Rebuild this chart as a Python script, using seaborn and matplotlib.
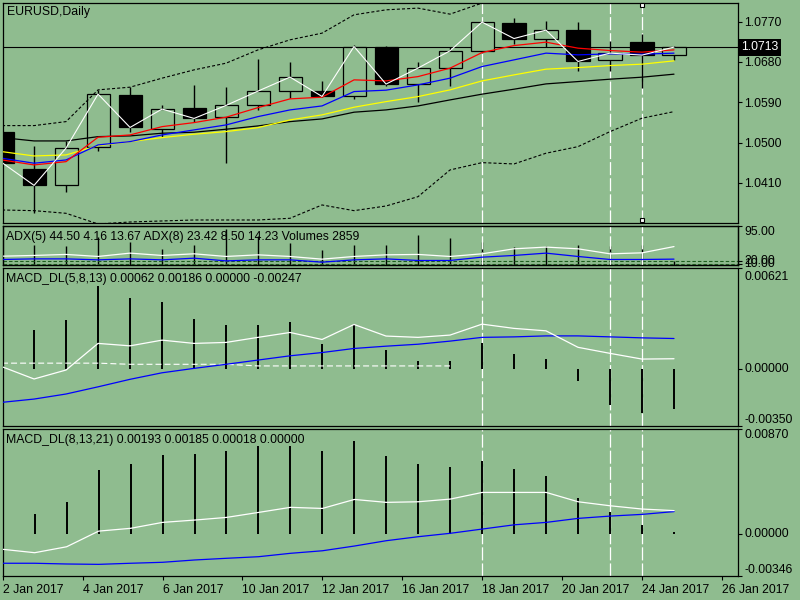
import numpy as np
import pandas as pd
import matplotlib
matplotlib.use("Agg")
import matplotlib.pyplot as plt
import matplotlib.transforms as mtransforms
import seaborn as sns

BG = "#8FBC8F"

# ---- price panel data (one value per daily bar) ----
bars = np.arange(22)
opens = [1.05243, 1.04418, 1.04046, 1.04893, 1.06051, 1.05303, 1.05770, 1.05570,
         1.05829, 1.06149, 1.06156, 1.06029, 1.07143, 1.06305, 1.06653, 1.07032,
         1.07664, 1.07321, 1.07515, 1.06840, 1.07241, 1.06951]
highs = [1.05350, 1.04915, 1.05026, 1.06178, 1.06238, 1.05838, 1.06290, 1.06238,
         1.06862, 1.06787, 1.06379, 1.07181, 1.07150, 1.06795, 1.07143, 1.07700,
         1.07789, 1.07716, 1.07687, 1.07270, 1.07426, 1.07150]
lows = [1.04450, 1.03431, 1.03890, 1.04804, 1.05243, 1.05116, 1.05466, 1.04545,
        1.05733, 1.05984, 1.06020, 1.05971, 1.06268, 1.05904, 1.06252, 1.07000,
        1.07210, 1.07121, 1.06586, 1.06586, 1.06216, 1.06847]
closes = [1.04552, 1.04046, 1.04879, 1.06082, 1.05338, 1.05748, 1.05539, 1.05829,
          1.06149, 1.06461, 1.06029, 1.07143, 1.06305, 1.06662, 1.07047, 1.07687,
          1.07321, 1.07508, 1.06809, 1.06996, 1.06951, 1.07130]
ma_red = [1.04613, 1.04502, 1.04575, 1.05120, 1.05171, 1.05356, 1.05446, 1.05566,
          1.05780, 1.05975, 1.06013, 1.06399, 1.06376, 1.06472, 1.06660, 1.07008,
          1.07164, 1.07240, 1.07106, 1.07053, 1.07017, 1.07068]
ma_blue = [1.04651, 1.04540, 1.04613, 1.04948, 1.05022, 1.05171, 1.05283, 1.05394,
           1.05580, 1.05729, 1.05818, 1.06138, 1.06169, 1.06287, 1.06437, 1.06696,
           1.06845, 1.06995, 1.06957, 1.06979, 1.06972, 1.06995]
ma_yellow = [1.04798, 1.04702, 1.04725, 1.04932, 1.05022, 1.05111, 1.05187, 1.05245,
             1.05334, 1.05506, 1.05618, 1.05789, 1.05914, 1.06026, 1.06176, 1.06376,
             1.06510, 1.06638, 1.06673, 1.06718, 1.06749, 1.06823]
ma_black = [1.05111, 1.05037, 1.05037, 1.05133, 1.05149, 1.05209, 1.05231, 1.05298,
            1.05372, 1.05468, 1.05528, 1.05678, 1.05729, 1.05818, 1.05952, 1.06080,
            1.06191, 1.06309, 1.06361, 1.06414, 1.06459, 1.06526]
band_up = [1.05379, 1.05379, 1.05468, 1.06176, 1.06236, 1.06437, 1.06622, 1.06771,
           1.07068, 1.07292, 1.07441, 1.07850, 1.07961, 1.07999, 1.07865, 1.08111,
           1.08250, 1.08350, 1.08400, 1.08380, 1.08350, 1.08320]
band_dn = [1.03497, 1.03482, 1.03423, 1.03185, 1.03229, 1.03252, 1.03274, 1.03274,
           1.03274, 1.03312, 1.03609, 1.03482, 1.03586, 1.03794, 1.04390, 1.04553,
           1.04524, 1.04763, 1.04910, 1.05245, 1.05544, 1.05691]
bid = 1.0713
price_ticks = [1.0410, 1.0500, 1.0590, 1.0680, 1.0770]

# ---- ADX / volume panel ----
adx_main = [20.9, 22.7, 25.2, 20.2, 28.4, 22.7, 26.7, 20.2, 24.2, 20.2, 13.6,
            20.2, 24.2, 25.2, 20.2, 26.7, 39.0, 43.2, 39.0, 26.7, 29.1, 44.5]
adx_minus = [12.8, 14.3, 14.3, 11.9, 14.3, 11.9, 16.0, 9.4, 11.9, 11.9, 6.2,
             11.9, 14.3, 10.4, 10.4, 18.5, 22.7, 28.4, 20.2, 12.8, 12.8, 13.67]
adx_levels = [8.4, 2.5]
adx_level_labels = ["20.00", "10.00"]
volumes = [np.nan, 16300, 15500, 23300, 19100, 13500, 16300, 30300, 23900, 18500,
           12100, 16300, 16800, 25300, 22700, 19100, 14900, 15700, 16800, 15700,
           16800, 2859]

# ---- MACD_DL(5,8,13) ----
m1_hist = [np.nan, 0.00237, 0.00299, 0.00508, 0.00435, 0.00411, 0.00305, 0.00268,
           0.00268, 0.00288, 0.00151, 0.00274, 0.00115, 0.00046, 0.00046, 0.00160,
           0.00091, 0.00058, -0.00077, -0.00222, -0.00272, -0.00247]
m1_white = [0.00013, -0.00062, -0.00007, 0.00156, 0.00141, 0.00176, 0.00156, 0.00162,
            0.00193, 0.00223, 0.00180, 0.00272, 0.00201, 0.00193, 0.00207, 0.00274,
            0.00248, 0.00233, 0.00132, 0.00095, 0.00060, 0.00062]
m1_blue = [-0.00205, -0.00185, -0.00154, -0.00110, -0.00064, -0.00024, 0.00003, 0.00028,
           0.00054, 0.00080, 0.00100, 0.00125, 0.00139, 0.00151, 0.00170, 0.00193,
           0.00196, 0.00202, 0.00202, 0.00196, 0.00190, 0.00186]
m1_dash = [0.00035, 0.00035, 0.00035, 0.00035, 0.00028, 0.00028, 0.00028, 0.00028,
           0.00018, 0.00018, 0.00018, 0.00018, 0.00018, 0.00018, 0.00018]
m1_range = (-0.00350, 0.00621)

# ---- MACD_DL(8,13,21) ----
m2_hist = [np.nan, 0.00164, 0.00266, 0.00527, 0.00576, 0.00650, 0.00658, 0.00683,
           0.00724, 0.00724, 0.00683, 0.00765, 0.00642, 0.00576, 0.00554, 0.00603,
           0.00535, 0.00477, 0.00299, 0.00183, 0.00076, 0.00018]
m2_white = [-0.00126, -0.00154, -0.00105, 0.00024, 0.00047, 0.00096, 0.00115, 0.00137,
            0.00178, 0.00220, 0.00211, 0.00285, 0.00261, 0.00266, 0.00288, 0.00343,
            0.00343, 0.00343, 0.00266, 0.00233, 0.00206, 0.00193]
m2_blue = [-0.00241, -0.00241, -0.00247, -0.00250, -0.00241, -0.00233, -0.00214, -0.00200,
           -0.00187, -0.00159, -0.00138, -0.00099, -0.00055, -0.00022, 0.00006, 0.00041,
           0.00076, 0.00096, 0.00129, 0.00148, 0.00162, 0.00185]
m2_range = (-0.00346, 0.00870)

date_labels = ["2 Jan 2017", "4 Jan 2017", "6 Jan 2017", "10 Jan 2017", "12 Jan 2017",
               "16 Jan 2017", "18 Jan 2017", "20 Jan 2017", "24 Jan 2017", "26 Jan 2017"]
marked_bars = [15, 19, 20]

sns.set_style("ticks")
plt.rcParams["font.family"] = ["Liberation Sans", "DejaVu Sans"]
plt.rcParams["font.size"] = 8.8
plt.rcParams["lines.scale_dashes"] = False
plt.rcParams["axes.facecolor"] = BG
plt.rcParams["axes.edgecolor"] = "black"
plt.rcParams["axes.linewidth"] = 0.9
plt.rcParams["xtick.color"] = "black"
plt.rcParams["ytick.color"] = "black"

fig = plt.figure(figsize=(8, 6), dpi=100, facecolor=BG)
L, R = 2.7, 738.0


def panel(top, bottom):
    return fig.add_axes([L / 800, 1 - bottom / 600, (R - L) / 800, (bottom - top) / 600])


def nudge(label, dy_px):
    # shift a tick label vertically by a few pixels
    label.set_transform(label.get_transform() +
                        mtransforms.ScaledTranslation(0, dy_px / 100, fig.dpi_scale_trans))


ax_p = panel(2.7, 223.3)
ax_a = panel(226.0, 264.7)
ax_m1 = panel(267.5, 426.0)
ax_m2 = panel(428.5, 576.0)
axes = [ax_p, ax_a, ax_m1, ax_m2]

# volume bars live on a hidden twin of the ADX panel
ax_v = ax_a.twinx()
ax_v.set_ylim(0, 32600)
ax_v.set_yticks([])
ax_v.vlines(bars, 0, volumes, color="black", lw=1.0, zorder=2)
ax_v.patch.set_facecolor(BG)
ax_a.set_zorder(ax_v.get_zorder() + 1)
ax_a.patch.set_visible(False)

for ax in axes + [ax_v]:
    ax.set_xlim(0.02, 23.0)
for ax in axes:
    ax.yaxis.tick_right()
    ax.tick_params(axis="y", direction="out", length=3, width=0.8, pad=1.5,
                   labelsize=8.8, left=False, labelleft=False, right=True,
                   labelright=True)
    ax.tick_params(axis="x", bottom=False, labelbottom=False)
    for s in ax.spines.values():
        s.set_visible(True)
        s.set_color("black")

# ---- price panel ----
df = pd.DataFrame({"bar": bars, "open": opens, "high": highs, "low": lows,
                   "close": closes})
body_lo = np.minimum(df["open"], df["close"])
body_h = (df["close"] - df["open"]).abs()
body_col = np.where(df["close"] < df["open"], "black", BG)
ax_p.vlines(df["bar"], df["low"], df["high"], color="black", lw=1.0, zorder=2)
ax_p.bar(df["bar"], body_h, bottom=body_lo, width=0.72, color=body_col,
         edgecolor="black", linewidth=0.9, zorder=2.5)
dot = (0, (2.2, 1.5))
sns.lineplot(x=bars, y=band_up, ax=ax_p, color="black", lw=0.8, linestyle=dot, zorder=3)
sns.lineplot(x=bars, y=band_dn, ax=ax_p, color="black", lw=0.8, linestyle=dot, zorder=3)
sns.lineplot(x=bars, y=ma_black, ax=ax_p, color="black", lw=0.9, zorder=3)
sns.lineplot(x=bars, y=ma_yellow, ax=ax_p, color="yellow", lw=0.9, zorder=3)
sns.lineplot(x=bars, y=ma_blue, ax=ax_p, color="blue", lw=0.9, zorder=3)
sns.lineplot(x=bars, y=ma_red, ax=ax_p, color="red", lw=0.9, zorder=3)
sns.lineplot(x=bars, y=closes, ax=ax_p, color="white", lw=0.8, zorder=4)
ax_p.axhline(bid, color="black", lw=0.8, zorder=2)
ax_p.set_ylim(1.0320, 1.0812)
ax_p.set_yticks(price_ticks)
ax_p.set_yticklabels([f"{v:.4f}" for v in price_ticks])
tp = mtransforms.blended_transform_factory(ax_p.transAxes, ax_p.transData)
ax_p.text(1.004, bid, f"{bid:.4f}", transform=tp, ha="left", va="center",
          color="white", fontsize=8.8, zorder=10,
          bbox=dict(facecolor="black", edgecolor="none", pad=1.8), clip_on=False)
ax_p.text(0.006, 0.958, "EURUSD,Daily", transform=ax_p.transAxes, ha="left",
          va="center", color="black")
tpx = mtransforms.blended_transform_factory(ax_p.transData, ax_p.transAxes)
ax_p.plot([marked_bars[-1]] * 2, [0.99, 0.015], ls="none", marker="s", ms=3.2,
          mfc="white", mec="black", mew=0.8, transform=tpx, zorder=6, clip_on=False)

# ---- ADX panel ----
for lv in adx_levels:
    ax_a.axhline(lv, color="#1f5f1f", lw=0.8, linestyle=(0, (2.5, 1.5)), zorder=1)
sns.lineplot(x=bars, y=adx_main, ax=ax_a, color="white", lw=0.9, zorder=3)
sns.lineplot(x=bars, y=adx_minus, ax=ax_a, color="blue", lw=0.9, zorder=3)
ax_a.set_ylim(0, 95)
ax_a.set_yticks([95] + adx_levels)
ax_a.set_yticklabels(["95.00"] + adx_level_labels)
for t, va in zip(ax_a.yaxis.get_major_ticks(), ["top", "center", "center"]):
    t.label2.set_verticalalignment(va)
ax_a.text(0.005, 0.716, "ADX(5) 44.50 4.16 13.67 ADX(8) 23.42 8.50 14.23 Volumes 2859",
          transform=ax_a.transAxes, ha="left", va="center", color="black")


# ---- MACD panels ----
def macd_panel(ax, hist, white, blue, yr, title, top_shift):
    ax.vlines(bars, 0, hist, color="black", lw=1.4, zorder=2)
    sns.lineplot(x=bars, y=blue, ax=ax, color="blue", lw=0.9, zorder=3)
    sns.lineplot(x=bars, y=white, ax=ax, color="white", lw=0.9, zorder=3)
    ax.set_ylim(*yr)
    ticks = [yr[0], 0.0, yr[1]]
    ax.set_yticks(ticks)
    ax.set_yticklabels([f"{v:.5f}" for v in ticks])
    tks = ax.yaxis.get_major_ticks()
    for t, va in zip(tks, ["bottom", "center", "top"]):
        t.label2.set_verticalalignment(va)
    nudge(tks[-1].label2, -top_shift)
    ax.text(0.005, 1 - 11.5 / ax.bbox.height, title, transform=ax.transAxes,
            ha="left", va="center", color="black")


macd_panel(ax_m1, m1_hist, m1_white, m1_blue, m1_range,
           "MACD_DL(5,8,13) 0.00062 0.00186 0.00000 -0.00247", 3)
sns.lineplot(x=bars[:len(m1_dash)], y=m1_dash, ax=ax_m1, color="white", lw=0.8,
             linestyle=(0, (4.3, 2.2)), zorder=2.5)
macd_panel(ax_m2, m2_hist, m2_white, m2_blue, m2_range,
           "MACD_DL(8,13,21) 0.00193 0.00185 0.00018 0.00000", 1)

# date axis on the bottom panel
tick_pos = np.arange(len(date_labels)) * 2.5
ax_m2.set_xticks(tick_pos)
ax_m2.set_xticklabels(date_labels)
ax_m2.tick_params(axis="x", bottom=True, labelbottom=True, direction="out",
                  length=3, width=0.8, pad=2.5, labelsize=8.8)
for lab in ax_m2.get_xticklabels():
    lab.set_horizontalalignment("left")

# white dashed vertical markers through all panels, behind the bars
for ax in axes:
    for b in marked_bars:
        ax.axvline(b, color="white", lw=0.9, linestyle=(0, (9.4, 2.2)), zorder=1.5)
    ax.set_xlabel("")
    ax.set_ylabel("")

fig.savefig("out.png", dpi=100, facecolor=BG)
